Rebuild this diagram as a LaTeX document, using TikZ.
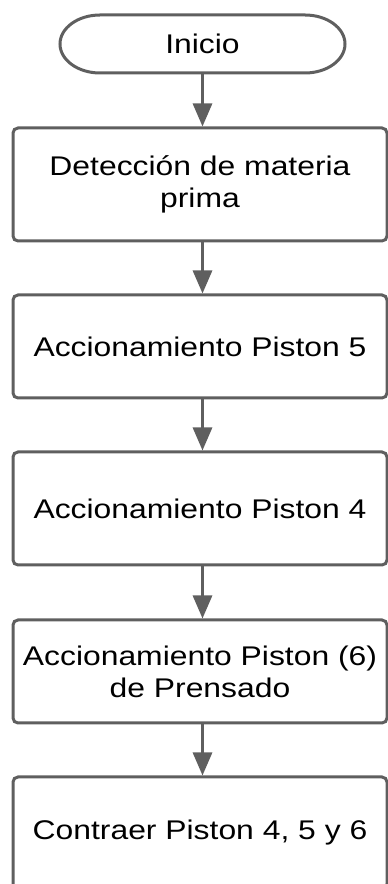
\documentclass[tikz,border=0pt]{standalone}
\usepackage{fontspec}
\usetikzlibrary{arrows.meta}
\newfontfamily\flowfont[FakeStretch=1.18]{Liberation Sans}
\definecolor{edgegray}{RGB}{95,95,95}
\begin{document}
\begin{tikzpicture}[x=1pt,y=1pt,
  every node/.style={font=\flowfont\fontsize{27}{32}\selectfont, text=black, align=center},
  terminal/.style={rectangle, minimum width=285pt, minimum height=61pt, inner sep=0pt,
    outer sep=0pt},
  outline/.style={draw=edgegray, line width=3pt},
  stepbox/.style={draw=edgegray, line width=3pt, rectangle, rounded corners=5pt,
    minimum width=374pt, inner sep=0pt},
  flow/.style={draw=edgegray, line width=3pt, -{Triangle[length=23pt,width=19pt]}}]
  \useasboundingbox (0,0) rectangle (388,884);
  \clip (0,0) rectangle (388,884);

  % start terminal with elliptical ends
  \node[terminal] (t) at (202.5,840) {Inicio};
  \draw[outline] ([shift={(-102.5,29)}]t.center) -- ([shift={(102.5,29)}]t.center)
    arc[start angle=90, end angle=-90, x radius=40pt, y radius=29pt]
    -- ([shift={(-102.5,-29)}]t.center)
    arc[start angle=270, end angle=90, x radius=40pt, y radius=29pt] -- cycle;

  % process steps
  \node[stepbox, minimum height=113pt] (b1) at (200,699.5) {Detección de materia\\prima};
  \node[stepbox, minimum height=103pt] (b2) at (200,537.5) {Accionamiento Piston 5};
  \node[stepbox, minimum height=113pt] (b3) at (200,375.5) {Accionamiento Piston 4};
  \node[stepbox, minimum height=103pt] (b4) at (200,212.5) {Accionamiento Piston (6)\\de Prensado};
  \node[stepbox, minimum height=112pt] (b5) at (200,51) {Contraer Piston 4, 5 y 6};

  % connectors along the common axis of the terminal
  \draw[flow] (t.south) -- (t.south |- b1.north);
  \draw[flow] (b1.south -| t.south) -- (t.south |- b2.north);
  \draw[flow] (b2.south -| t.south) -- (t.south |- b3.north);
  \draw[flow] (b3.south -| t.south) -- (t.south |- b4.north);
  \draw[flow] (b4.south -| t.south) -- (t.south |- b5.north);
\end{tikzpicture}
\end{document}
